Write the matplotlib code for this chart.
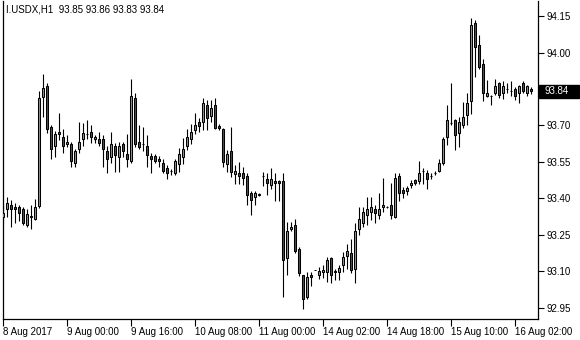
import matplotlib
matplotlib.use('Agg')
import matplotlib.pyplot as plt
import matplotlib.transforms as mtransforms
from matplotlib.patches import Rectangle

# I.USDX H1 bars, 8 Aug 2017 08:00 -> 16 Aug 2017 06:00
opens = [
    93.322, 93.355, 93.371, 93.363, 93.363, 93.355, 93.291, 93.325, 93.313, 93.368,
    93.818, 93.862, 93.692, 93.615, 93.672, 93.651, 93.623, 93.623, 93.544, 93.601,
    93.643, 93.664, 93.672, 93.643, 93.643, 93.643, 93.596, 93.571, 93.615, 93.571,
    93.623, 93.582, 93.552, 93.813, 93.632, 93.623, 93.615, 93.574, 93.574, 93.560,
    93.544, 93.524, 93.511, 93.503, 93.542, 93.570, 93.614, 93.644, 93.682, 93.712,
    93.712, 93.784, 93.740, 93.784, 93.699, 93.685, 93.542, 93.594, 93.501, 93.504,
    93.504, 93.490, 93.422, 93.405, 93.413, 93.491, 93.480, 93.453, 93.472, 93.472,
    93.472, 93.154, 93.272, 93.291, 93.192, 93.083, 92.992, 93.083, 93.105, 93.083,
    93.096, 93.096, 93.154, 93.102, 93.096, 93.124, 93.162, 93.173, 93.110, 93.272,
    93.299, 93.332, 93.343, 93.355, 93.332, 93.363, 93.363, 93.371, 93.322, 93.491,
    93.434, 93.431, 93.453, 93.475, 93.472, 93.511, 93.503, 93.491, 93.504, 93.511,
    93.544, 93.651, 93.711, 93.722, 93.670, 93.700, 93.741, 93.801, 94.120, 94.032,
    93.952, 93.821, 93.821, 93.832, 93.873, 93.832, 93.851, 93.840, 93.851, 93.832,
    93.873, 93.832, 93.850,
]
highs = [
    93.371, 93.406, 93.393, 93.382, 93.371, 93.365, 93.355, 93.371, 93.396, 93.843,
    93.911, 93.873, 93.700, 93.675, 93.752, 93.686, 93.659, 93.632, 93.604, 93.714,
    93.708, 93.722, 93.700, 93.659, 93.672, 93.659, 93.615, 93.672, 93.629, 93.632,
    93.632, 93.664, 93.889, 93.832, 93.700, 93.694, 93.659, 93.585, 93.582, 93.574,
    93.560, 93.535, 93.519, 93.560, 93.606, 93.647, 93.685, 93.704, 93.751, 93.729,
    93.811, 93.803, 93.803, 93.811, 93.707, 93.690, 93.597, 93.693, 93.537, 93.548,
    93.529, 93.504, 93.430, 93.430, 93.422, 93.510, 93.503, 93.524, 93.503, 93.475,
    93.503, 93.302, 93.302, 93.313, 93.201, 93.083, 93.096, 93.096, 93.106, 93.118,
    93.124, 93.157, 93.159, 93.110, 93.126, 93.179, 93.212, 93.231, 93.299, 93.363,
    93.363, 93.406, 93.404, 93.371, 93.423, 93.483, 93.369, 93.461, 93.505, 93.503,
    93.445, 93.450, 93.475, 93.480, 93.552, 93.524, 93.516, 93.505, 93.513, 93.563,
    93.653, 93.782, 93.875, 93.727, 93.736, 93.796, 93.832, 94.142, 94.134, 94.071,
    93.974, 93.887, 93.826, 93.892, 93.878, 93.881, 93.875, 93.881, 93.857, 93.865,
    93.881, 93.865, 93.860,
]
lows = [
    93.299, 93.324, 93.283, 93.299, 93.308, 93.291, 93.283, 93.272, 93.311, 93.360,
    93.736, 93.670, 93.560, 93.571, 93.640, 93.585, 93.612, 93.530, 93.530, 93.585,
    93.615, 93.645, 93.629, 93.629, 93.615, 93.530, 93.503, 93.544, 93.509, 93.509,
    93.571, 93.530, 93.544, 93.612, 93.601, 93.596, 93.530, 93.503, 93.544, 93.530,
    93.503, 93.481, 93.497, 93.497, 93.507, 93.539, 93.597, 93.625, 93.663, 93.674,
    93.682, 93.682, 93.715, 93.685, 93.682, 93.529, 93.507, 93.487, 93.460, 93.460,
    93.454, 93.372, 93.331, 93.372, 93.409, 93.450, 93.412, 93.437, 93.390, 93.390,
    92.992, 93.083, 93.264, 93.173, 93.080, 92.943, 92.984, 93.039, 93.103, 93.066,
    93.072, 93.055, 93.052, 93.064, 93.064, 93.096, 93.110, 93.094, 93.052, 93.247,
    93.283, 93.291, 93.311, 93.299, 93.313, 93.343, 93.359, 93.316, 93.319, 93.390,
    93.401, 93.412, 93.442, 93.453, 93.459, 93.459, 93.439, 93.481, 93.494, 93.508,
    93.537, 93.620, 93.700, 93.599, 93.612, 93.689, 93.700, 93.747, 93.900, 93.933,
    93.801, 93.815, 93.782, 93.824, 93.813, 93.810, 93.834, 93.821, 93.804, 93.791,
    93.832, 93.821, 93.830,
]
closes = [
    93.341, 93.382, 93.355, 93.355, 93.340, 93.299, 93.335, 93.324, 93.363, 93.813,
    93.854, 93.684, 93.601, 93.664, 93.664, 93.615, 93.632, 93.552, 93.596, 93.632,
    93.670, 93.663, 93.651, 93.651, 93.629, 93.601, 93.560, 93.623, 93.579, 93.615,
    93.593, 93.560, 93.821, 93.623, 93.612, 93.624, 93.579, 93.560, 93.552, 93.552,
    93.511, 93.503, 93.512, 93.552, 93.581, 93.603, 93.652, 93.671, 93.701, 93.699,
    93.792, 93.731, 93.770, 93.690, 93.690, 93.550, 93.581, 93.509, 93.512, 93.490,
    93.482, 93.413, 93.392, 93.422, 93.419, 93.490, 93.461, 93.480, 93.461, 93.461,
    93.146, 93.264, 93.283, 93.182, 93.094, 92.984, 93.075, 93.075, 93.104, 93.102,
    93.105, 93.146, 93.083, 93.096, 93.113, 93.159, 93.182, 93.105, 93.264, 93.313,
    93.343, 93.355, 93.363, 93.341, 93.355, 93.371, 93.364, 93.332, 93.483, 93.420,
    93.420, 93.442, 93.461, 93.461, 93.503, 93.512, 93.481, 93.490, 93.505, 93.544,
    93.643, 93.722, 93.710, 93.661, 93.714, 93.733, 93.791, 94.112, 94.021, 93.939,
    93.832, 93.832, 93.820, 93.862, 93.824, 93.862, 93.850, 93.841, 93.821, 93.862,
    93.840, 93.862, 93.840,
]

time_ticks = [0, 16, 32, 48, 64, 80, 96, 112, 128]
time_labels = ['8 Aug 2017', '9 Aug 00:00', '9 Aug 16:00', '10 Aug 08:00', '11 Aug 00:00',
               '14 Aug 02:00', '14 Aug 18:00', '15 Aug 10:00', '16 Aug 02:00']
price_ticks = [92.95, 93.10, 93.25, 93.40, 93.55, 93.70, 94.00, 94.15]
last_price = 93.84
header = 'I.USDX,H1  93.85 93.86 93.83 93.84'

bull_color = '#22e022'
bear_color = '#e01010'
font = 'Liberation Sans'

fig = plt.figure(figsize=(5.8, 3.4), dpi=100, facecolor='white')
ax = fig.add_axes([3 / 580, 21 / 340, 535 / 580, 318 / 340])
ax.set_facecolor('white')

x = list(range(len(opens)))
body_bottom = [min(o, c) for o, c in zip(opens, closes)]
body_height = [abs(c - o) for o, c in zip(opens, closes)]
colors = [bull_color if c >= o else bear_color for o, c in zip(opens, closes)]

# wicks, then bodies on top
ax.vlines(x, lows, highs, color='black', linewidth=0.8, zorder=2)
ax.bar(x, body_height, bottom=body_bottom, width=0.5, color=colors,
       edgecolor='black', linewidth=0.75, zorder=3)

ax.set_xlim(-0.1, 133.65)
ax.set_ylim(92.903, 94.212)

ax.set_xticks(time_ticks)
ax.set_xticklabels(time_labels, ha='left', fontsize=7, family=font)
ax.yaxis.tick_right()
ax.set_yticks(price_ticks)
ax.set_yticklabels([f'{v:.2f}' for v in price_ticks], fontsize=7, family=font)
ax.tick_params(axis='x', direction='out', length=5, width=0.8, pad=1)
ax.tick_params(axis='y', direction='out', length=4, width=0.8, pad=2)

ax.spines['top'].set_visible(False)
for side in ['left', 'right', 'bottom']:
    ax.spines[side].set_linewidth(0.9)

# last price marker
trans = mtransforms.blended_transform_factory(ax.transAxes, ax.transData)
ax.add_patch(Rectangle((1.002, last_price - 0.028), 0.074, 0.056, transform=trans,
                       facecolor='black', edgecolor='black', clip_on=False, zorder=5))
ax.text(1.012, last_price, f'{last_price:.2f}', transform=trans, color='white',
        fontsize=7, family=font, va='center', ha='left', zorder=6)

fig.text(6 / 580, 1 - 10 / 340, header, fontsize=7, family=font, va='center', ha='left')

fig.savefig('out.png', dpi=100, facecolor='white')
